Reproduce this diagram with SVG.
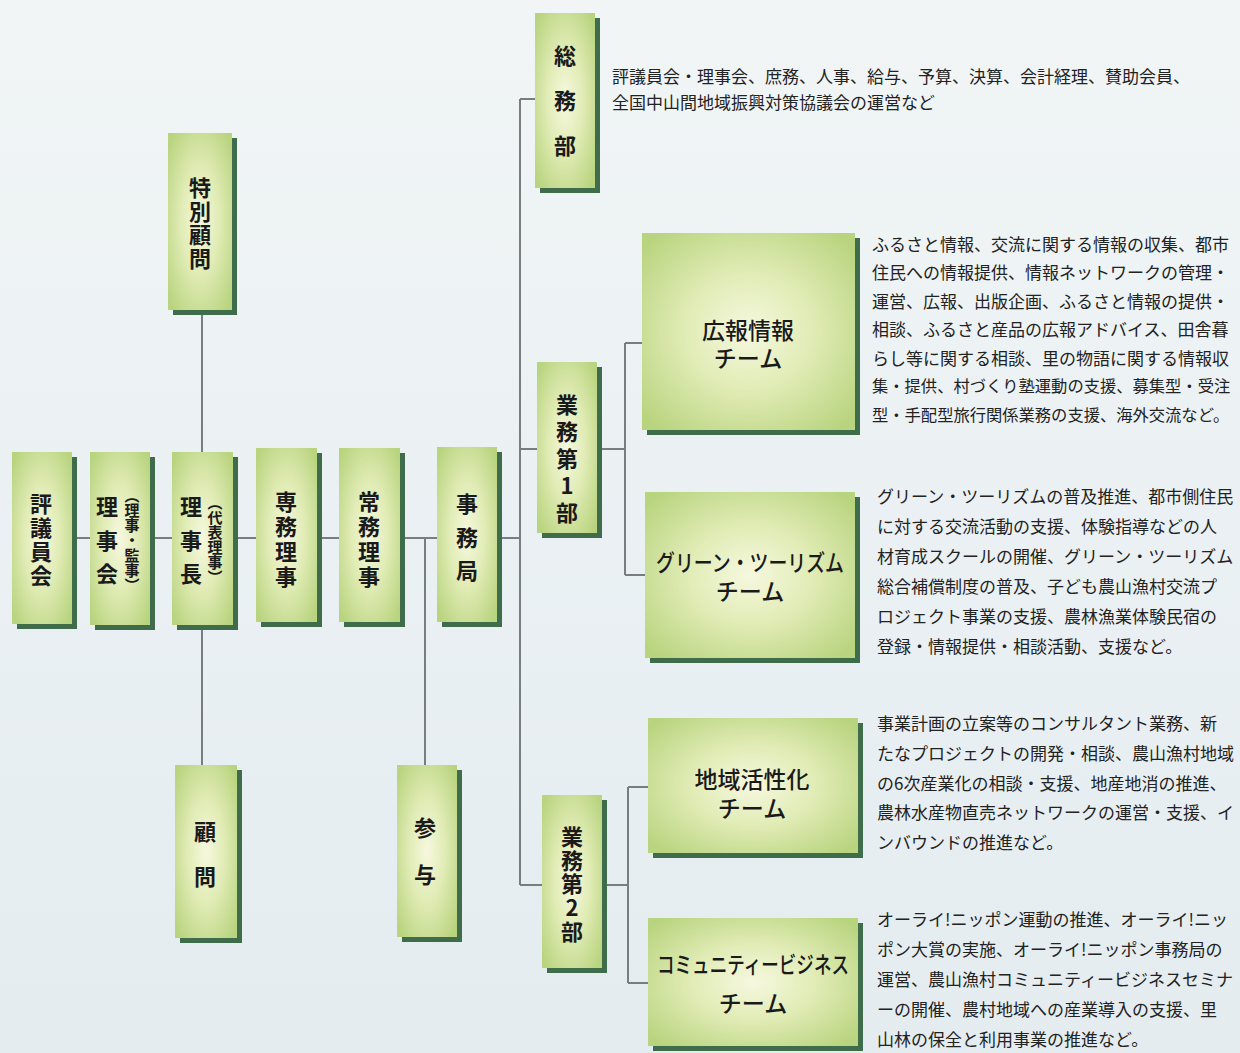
<svg xmlns="http://www.w3.org/2000/svg" width="1240" height="1053" viewBox="0 0 1240 1053">
<defs>
<linearGradient id="bg" x1="0" y1="0" x2="0" y2="1">
<stop offset="0" stop-color="#f1f5f6"/>
<stop offset="1" stop-color="#e4ecf0"/>
</linearGradient>
<radialGradient id="box" cx="0.5" cy="0.5" r="0.65">
<stop offset="0" stop-color="#f6f8df"/>
<stop offset="0.45" stop-color="#e1ecb6"/>
<stop offset="1" stop-color="#b9d47f"/>
</radialGradient>
<style>
.sh{fill:#3f6d4b}
.bx{fill:url(#box)}
.con{fill:none;stroke:#7a7d7e;stroke-width:2}
.v{font-family:"Noto Sans CJK JP","Noto Sans CJK SC",sans-serif;font-size:22px;font-weight:bold;fill:#1a1a1a;text-anchor:middle;writing-mode:vertical-rl;text-orientation:upright}
.vs{font-family:"Noto Sans CJK JP","Noto Sans CJK SC",sans-serif;font-size:15px;font-weight:bold;fill:#1a1a1a;text-anchor:middle;writing-mode:vertical-rl}
.t{font-family:"Noto Sans CJK JP","Noto Sans CJK SC",sans-serif;font-size:23px;font-weight:500;fill:#1a1a1a;text-anchor:middle;dominant-baseline:central}
.d{font-family:"Noto Sans CJK JP","Noto Sans CJK SC",sans-serif;font-size:17px;fill:#222;dominant-baseline:central}
.dn{font-size:16.3px}
</style>
</defs>
<rect width="1240" height="1053" fill="url(#bg)"/>

<g id="connectors">
<path class="con" d="M77 538 H520"/>
<path class="con" d="M202 315 V765"/>
<path class="con" d="M425 538 V765"/>
<path class="con" d="M520 99 V885 M520 99 H535 M520 449 H537 M520 885 H542"/>
<path class="con" d="M602 449 H625 M625 343 V575 M625 343 H642 M625 575 H645"/>
<path class="con" d="M607 885 H628 M628 787 V983 M628 787 H648 M628 983 H648"/>
</g>

<g id="tokubetsu-komon">
<rect class="sh" x="173" y="138" width="64" height="177"/>
<rect class="bx" x="168" y="133" width="64" height="177"/>
<text class="v" x="200" y="224" letter-spacing="1.7">特別顧問</text>
</g>

<g id="hyogiinkai">
<rect class="sh" x="17" y="457" width="60" height="172"/>
<rect class="bx" x="12" y="452" width="60" height="172"/>
<text class="v" x="41" y="541" letter-spacing="2">評議員会</text>
</g>

<g id="rijikai">
<rect class="sh" x="95" y="457" width="60" height="173"/>
<rect class="bx" x="90" y="452" width="60" height="173"/>
<text class="v" x="107" y="546" letter-spacing="11.5">理事会</text>
<text class="vs" x="132" y="540">（理事・監事）</text>
</g>

<g id="rijicho">
<rect class="sh" x="177" y="457" width="61" height="173"/>
<rect class="bx" x="172" y="452" width="61" height="173"/>
<text class="v" x="191" y="546" letter-spacing="11.5">理事長</text>
<text class="vs" x="215" y="540">（代表理事）</text>
</g>

<g id="senmu-riji">
<rect class="sh" x="261" y="453" width="61" height="174"/>
<rect class="bx" x="256" y="448" width="61" height="174"/>
<text class="v" x="286" y="541" letter-spacing="3">専務理事</text>
</g>

<g id="jomu-riji">
<rect class="sh" x="344" y="453" width="61" height="174"/>
<rect class="bx" x="339" y="448" width="61" height="174"/>
<text class="v" x="369" y="541" letter-spacing="3">常務理事</text>
</g>

<g id="jimukyoku">
<rect class="sh" x="442" y="452" width="60" height="175"/>
<rect class="bx" x="437" y="447" width="60" height="175"/>
<text class="v" x="467" y="543" letter-spacing="11.5">事務局</text>
</g>

<g id="komon">
<rect class="sh" x="180" y="770" width="62" height="173"/>
<rect class="bx" x="175" y="765" width="62" height="173"/>
<text class="v" x="205" y="866" letter-spacing="23">顧問</text>
</g>

<g id="sanyo">
<rect class="sh" x="402" y="770" width="60" height="172"/>
<rect class="bx" x="397" y="765" width="60" height="172"/>
<text class="v" x="425" y="864" letter-spacing="25">参与</text>
</g>

<g id="somubu">
<rect class="sh" x="540" y="18" width="60" height="175"/>
<rect class="bx" x="535" y="13" width="60" height="175"/>
<text class="v" x="565" y="112" letter-spacing="23">総務部</text>
<text class="d" x="612" y="75">評議員会・理事会、庶務、人事、給与、予算、決算、会計経理、賛助会員、</text>
<text class="d" x="612" y="101">全国中山間地域振興対策協議会の運営など</text>
</g>

<g id="gyomu1">
<rect class="sh" x="542" y="367" width="60" height="171"/>
<rect class="bx" x="537" y="362" width="60" height="171"/>
<text class="v" x="567" y="461" letter-spacing="5">業務第1部</text>
</g>

<g id="gyomu2">
<rect class="sh" x="547" y="800" width="60" height="173"/>
<rect class="bx" x="542" y="795" width="60" height="173"/>
<text class="v" x="572" y="885" letter-spacing="1.75">業務第2部</text>
</g>

<g id="koho-team">
<rect class="sh" x="647" y="238" width="213" height="197"/>
<rect class="bx" x="642" y="233" width="213" height="197"/>
<text class="t" x="748" y="329">広報情報<tspan x="748" dy="28">チーム</tspan></text>
<text class="d" x="872" y="243">ふるさと情報、交流に関する情報の収集、都市</text>
<text class="d" x="872" y="271">住民への情報提供、情報ネットワークの管理・</text>
<text class="d" x="872" y="300">運営、広報、出版企画、ふるさと情報の提供・</text>
<text class="d" x="872" y="328">相談、ふるさと産品の広報アドバイス、田舎暮</text>
<text class="d" x="872" y="357">らし等に関する相談、里の物語に関する情報収</text>
<text class="d dn" x="872" y="385">集・提供、村づくり塾運動の支援、募集型・受注</text>
<text class="d dn" x="872" y="414">型・手配型旅行関係業務の支援、海外交流など。</text>
</g>

<g id="green-tourism-team">
<rect class="sh" x="650" y="497" width="210" height="166"/>
<rect class="bx" x="645" y="492" width="210" height="166"/>
<text class="t" x="750" y="561"><tspan x="750" textLength="188" lengthAdjust="spacingAndGlyphs">グリーン・ツーリズム</tspan><tspan x="750" dy="29">チーム</tspan></text>
<text class="d" x="877" y="495">グリーン・ツーリズムの普及推進、都市側住民</text>
<text class="d" x="877" y="525">に対する交流活動の支援、体験指導などの人</text>
<text class="d" x="877" y="555">材育成スクールの開催、グリーン・ツーリズム</text>
<text class="d" x="877" y="585">総合補償制度の普及、子ども農山漁村交流プ</text>
<text class="d" x="877" y="615">ロジェクト事業の支援、農林漁業体験民宿の</text>
<text class="d" x="877" y="645">登録・情報提供・相談活動、支援など。</text>
</g>

<g id="chiiki-kasseika-team">
<rect class="sh" x="653" y="723" width="210" height="135"/>
<rect class="bx" x="648" y="718" width="210" height="135"/>
<text class="t" x="752" y="778">地域活性化<tspan x="752" dy="29">チーム</tspan></text>
<text class="d" x="877" y="722">事業計画の立案等のコンサルタント業務、新</text>
<text class="d" x="877" y="752">たなプロジェクトの開発・相談、農山漁村地域</text>
<text class="d" x="877" y="782">の6次産業化の相談・支援、地産地消の推進、</text>
<text class="d" x="877" y="811">農林水産物直売ネットワークの運営・支援、イ</text>
<text class="d" x="877" y="841">ンバウンドの推進など。</text>
</g>

<g id="community-business-team">
<rect class="sh" x="653" y="923" width="210" height="128"/>
<rect class="bx" x="648" y="918" width="210" height="128"/>
<text class="t" x="753" y="963"><tspan x="753" textLength="192" lengthAdjust="spacingAndGlyphs">コミュニティービジネス</tspan><tspan x="753" dy="39">チーム</tspan></text>
<text class="d" x="877" y="918">オーライ!ニッポン運動の推進、オーライ!ニッ</text>
<text class="d" x="877" y="948">ポン大賞の実施、オーライ!ニッポン事務局の</text>
<text class="d" x="877" y="978">運営、農山漁村コミュニティービジネスセミナ</text>
<text class="d" x="877" y="1008">ーの開催、農村地域への産業導入の支援、里</text>
<text class="d" x="877" y="1038">山林の保全と利用事業の推進など。</text>
</g>
</svg>
